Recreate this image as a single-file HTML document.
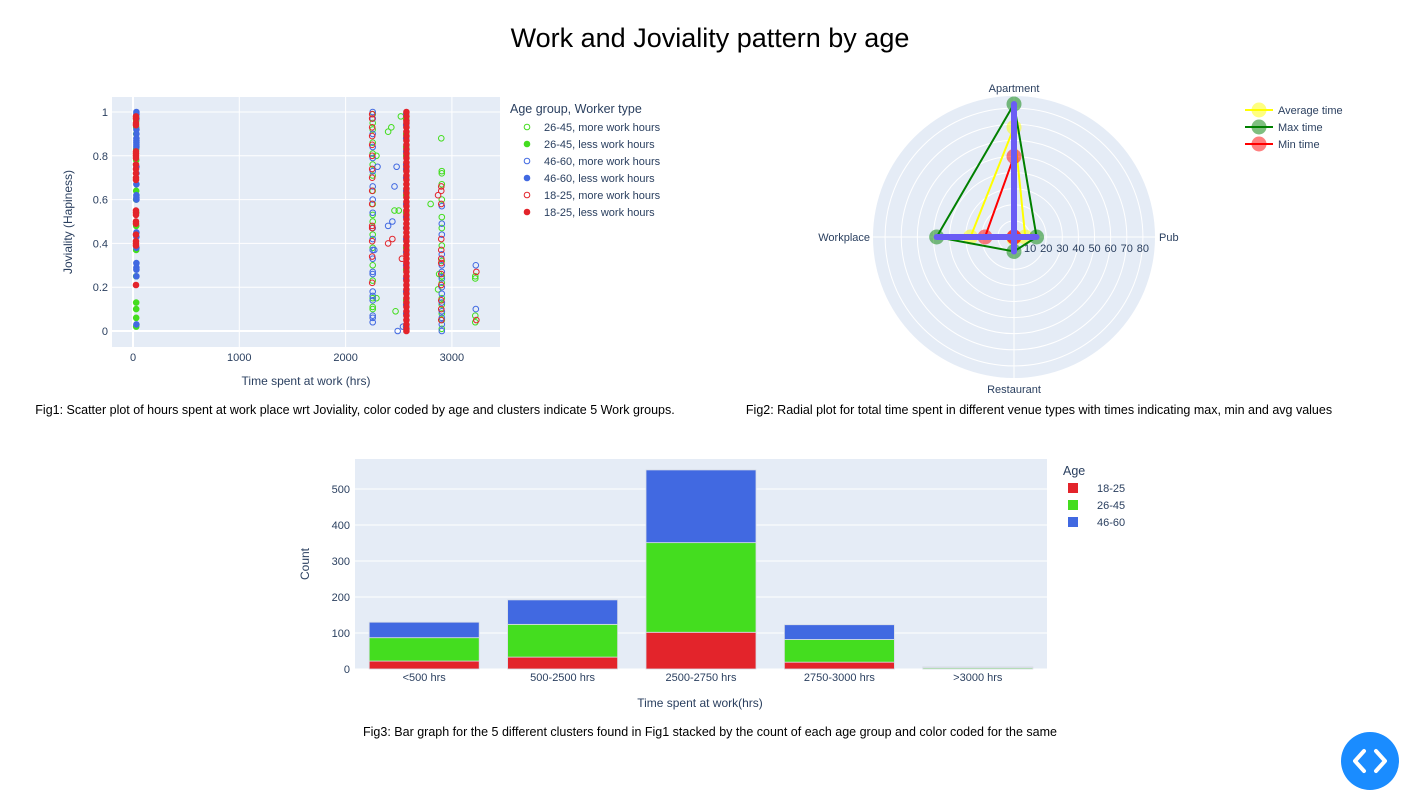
<!DOCTYPE html>
<html><head><meta charset="utf-8">
<style>
body{margin:0;background:#fff;font-family:"Liberation Sans",sans-serif;}
svg text{font-family:"Liberation Sans",sans-serif;fill:#2a3f5f;}
</style></head>
<body>
<svg id="root" width="1421" height="807" viewBox="0 0 1421 807" xmlns="http://www.w3.org/2000/svg">
<text x="710" y="47" text-anchor="middle" font-size="27" style="fill:#000">Work and Joviality pattern by age</text>
<g id="scatter"></g>
<g id="polar"></g>
<g id="bar"></g>
<text x="355" y="414" text-anchor="middle" font-size="12.5" style="fill:#000">Fig1: Scatter plot of hours spent at work place wrt Joviality, color coded by age and clusters indicate 5 Work groups.</text>
<text x="1039" y="414" text-anchor="middle" font-size="12.5" style="fill:#000">Fig2: Radial plot for total time spent in different venue types with times indicating max, min and avg values</text>
<text x="710" y="736" text-anchor="middle" font-size="12.5" style="fill:#000">Fig3: Bar graph for the 5 different clusters found in Fig1 stacked by the count of each age group and color coded for the same</text>
<g>
<circle cx="1370" cy="761" r="29" fill="#1a8cff"/>
<path d="M1364 751 L1355 761 L1364 771 M1376 751 L1385 761 L1376 771" stroke="#fff" stroke-width="4" fill="none" stroke-linecap="round" stroke-linejoin="round"/>
</g>
</svg>
<script>
const NS="http://www.w3.org/2000/svg";
function mk(parent,tag,attrs,text){const e=document.createElementNS(NS,tag);for(const k in attrs)e.setAttribute(k,attrs[k]);if(text!==undefined)e.textContent=text;parent.appendChild(e);return e;}
const GREEN="#44dd1f",BLUE="#4169e1",RED="#e3242b";

/* ---------- Scatter data ---------- */
const xTicks=[0,1000,2000,3000];
const yTicks=[0,0.2,0.4,0.6,0.8,1];
const yTickLabels=["0","0.2","0.4","0.6","0.8","1"];
const lessRed30Y=[0.98,0.97,0.95,0.94,0.82,0.81,0.80,0.79,0.76,0.74,0.72,0.70,0.69,0.55,0.54,0.53,0.50,0.49,0.44,0.41,0.40,0.39,0.21];
const lessBlue30Y=[1.0,0.99,0.97,0.92,0.90,0.88,0.87,0.86,0.85,0.84,0.75,0.72,0.67,0.62,0.61,0.60,0.45,0.43,0.38,0.31,0.29,0.28,0.25,0.03];
const lessGreen30Y=[0.98,0.96,0.93,0.90,0.83,0.78,0.64,0.60,0.54,0.48,0.37,0.25,0.13,0.10,0.06,0.02];
const lessRed2570Y=[1.0,0.98,0.96,0.95,0.93,0.91,0.89,0.87,0.85,0.83,0.81,0.79,0.77,0.75,0.73,0.71,0.69,0.67,0.65,0.63,0.61,0.59,0.57,0.55,0.53,0.51,0.49,0.47,0.45,0.43,0.41,0.39,0.37,0.35,0.33,0.31,0.29,0.27,0.25,0.23,0.21,0.19,0.17,0.15,0.13,0.11,0.09,0.07,0.05,0.03,0.01,0.0];
const lessBlue2570Y=[0.99,0.94,0.88,0.82,0.76,0.74,0.70,0.64,0.58,0.52,0.47,0.42,0.36,0.30,0.24,0.18,0.12,0.08,0.02];
const lessGreen2570Y=[0.97,0.90,0.84,0.80,0.62,0.54,0.38,0.28,0.14,0.02];
const moreGreen2250Y=[0.99,0.95,0.92,0.86,0.81,0.76,0.71,0.64,0.58,0.53,0.50,0.44,0.38,0.30,0.23,0.15,0.11,0.10];
const moreBlue2250Y=[1.0,0.97,0.90,0.84,0.79,0.73,0.66,0.60,0.54,0.47,0.42,0.37,0.33,0.27,0.26,0.18,0.16,0.14,0.07,0.06,0.04];
const moreRed2250Y=[0.99,0.97,0.93,0.89,0.85,0.80,0.74,0.70,0.64,0.58,0.48,0.47,0.41,0.34,0.22];
const moreGreen2900Y=[0.73,0.72,0.67,0.60,0.52,0.47,0.39,0.32,0.25,0.22,0.15,0.12,0.08,0.05,0.01];
const moreBlue2900Y=[0.57,0.49,0.44,0.35,0.30,0.27,0.24,0.20,0.17,0.13,0.09,0.06,0.03,0.0];
const moreRed2900Y=[0.66,0.64,0.58,0.42,0.37,0.33,0.31,0.26,0.21,0.14,0.10,0.05];
const moreGreen3220Y=[0.25,0.24,0.07,0.04];
const moreBlue3220Y=[0.30,0.10];
const moreRed3220Y=[0.27,0.05];
const strayGreenX=[2400,2430,2520,2460,2500,2800,2290,2470,2880,2870,2900,2290];
const strayGreenY=[0.91,0.93,0.98,0.55,0.55,0.58,0.15,0.09,0.26,0.19,0.88,0.80];
const strayBlueX=[2300,2480,2460,2400,2440,2270,2490,2540];
const strayBlueY=[0.75,0.75,0.66,0.48,0.50,0.37,0.0,0.02];
const strayRedX=[2400,2440,2530,2870];
const strayRedY=[0.40,0.42,0.33,0.62];

(function(){
const g=document.getElementById('scatter');
const L=112,R=500,T=97,B=347;
const sx=v=>133+v*0.1063, sy=v=>331-v*219;
const bg=mk(g,'rect',{x:L,y:T,width:R-L,height:B-T,fill:'#e5ecf6'});


xTicks.forEach(t=>{
 const l=mk(g,'line',{x1:sx(t),x2:sx(t),y1:T,y2:B,stroke:'#fff','stroke-width':t===0?2:1});
 
 
 const tx=mk(g,'text',{x:sx(t),y:361,'text-anchor':'middle','font-size':11},String(t));
 
 
});
yTicks.forEach((t,i)=>{
 const l=mk(g,'line',{x1:L,x2:R,y1:sy(t),y2:sy(t),stroke:'#fff','stroke-width':t===0?2:1});
 
 
 const tx=mk(g,'text',{x:108,y:sy(t)+4,'text-anchor':'end','font-size':11},yTickLabels[i]);
 
 
});
const yt=mk(g,'text',{x:0,y:0,'text-anchor':'middle','font-size':12,transform:'translate(72,222) rotate(-90)'},'Joviality (Hapiness)');


const xt=mk(g,'text',{x:306,y:385,'text-anchor':'middle','font-size':12},'Time spent at work (hrs)');


function pts(xs,ys,col,filled,name){
 ys.forEach((y,i)=>{
  const x=Array.isArray(xs)?xs[i]:xs;
  const c=mk(g,'circle',{cx:sx(x),cy:sy(y),r:2.8,fill:filled?col:'none',stroke:col,'stroke-width':1});
  
  
 });
}
pts(2255,moreGreen2250Y,GREEN,false,'point-26-45-more');
pts(2905,moreGreen2900Y,GREEN,false,'point-26-45-more');
pts(3220,moreGreen3220Y,GREEN,false,'point-26-45-more');
pts(strayGreenX,strayGreenY,GREEN,false,'point-26-45-more');
pts(2255,moreBlue2250Y,BLUE,false,'point-46-60-more');
pts(2905,moreBlue2900Y,BLUE,false,'point-46-60-more');
pts(3225,moreBlue3220Y,BLUE,false,'point-46-60-more');
pts(strayBlueX,strayBlueY,BLUE,false,'point-46-60-more');
pts(2250,moreRed2250Y,RED,false,'point-18-25-more');
pts(2900,moreRed2900Y,RED,false,'point-18-25-more');
pts(3230,moreRed3220Y,RED,false,'point-18-25-more');
pts(strayRedX,strayRedY,RED,false,'point-18-25-more');
pts(30,lessGreen30Y,GREEN,true,'point-26-45-less');
pts(2570,lessGreen2570Y,GREEN,true,'point-26-45-less');
pts(32,lessBlue30Y,BLUE,true,'point-46-60-less');
pts(2570,lessBlue2570Y,BLUE,true,'point-46-60-less');
pts(28,lessRed30Y,RED,true,'point-18-25-less');
pts(2572,lessRed2570Y,RED,true,'point-18-25-less');
/* legend */
const lt=mk(g,'text',{x:510,y:113,'font-size':12.5},'Age group, Worker type');


const legNames=["26-45, more work hours","26-45, less work hours","46-60, more work hours","46-60, less work hours","18-25, more work hours","18-25, less work hours"];
const legCols=[GREEN,GREEN,BLUE,BLUE,RED,RED];
legNames.forEach((n,i)=>{
 const y=127+i*17;
 const eg=mk(g,'g',{});
 
 
 mk(eg,'circle',{cx:527,cy:y,r:2.8,fill:i%2?legCols[i]:'none',stroke:legCols[i]});
 mk(eg,'text',{x:544,y:y+4,'font-size':11},n);
});
})();

/* ---------- Polar data ---------- */
const venues=["Apartment","Pub","Restaurant","Workplace"];
const maxTime=[82.5,14,9,48];
const avgTime=[68,7,1,27];
const minTime=[50,0,0,18];
const radialTicks=[10,20,30,40,50,60,70,80];
(function(){
const g=document.getElementById('polar');
const cx=1014,cy=237,R=141,rmax=87.5;
const ang={Apartment:-90,Pub:0,Restaurant:90,Workplace:180};
const pt=(v,r)=>{const a=ang[v]*Math.PI/180,d=r/rmax*R;return [cx+d*Math.cos(a),cy+d*Math.sin(a)];};
const bg=mk(g,'circle',{cx,cy,r:R,fill:'#e5ecf6'});


radialTicks.forEach(t=>{
 const c=mk(g,'circle',{cx,cy,r:t/rmax*R,fill:'none',stroke:'#fff','stroke-width':1});
 
 
});
venues.forEach(v=>{
 const p=pt(v,rmax);
 const l=mk(g,'line',{x1:cx,y1:cy,x2:p[0],y2:p[1],stroke:'#fff','stroke-width':1});
 
 
});
radialTicks.forEach(t=>{
 const p=pt('Pub',t);
 const tx=mk(g,'text',{x:p[0],y:cy+15,'text-anchor':'middle','font-size':11},String(t));
 
 
});
const labs={Apartment:[cx,92,'middle'],Pub:[1159,241,'start'],Restaurant:[cx,393,'middle'],Workplace:[870,241,'end']};
venues.forEach(v=>{
 const t=mk(g,'text',{x:labs[v][0],y:labs[v][1],'text-anchor':labs[v][2],'font-size':11},v);
 
 
});
function trace(vals,col,name){
 const ps=vals.map((r,i)=>pt(venues[i],r));ps.push(ps[0]);
 const pl=mk(g,'polyline',{points:ps.map(p=>p.join(',')).join(' '),fill:'none',stroke:col,'stroke-width':2});
 
 
 vals.forEach((r,i)=>{
  const p=pt(venues[i],r);
  const c=mk(g,'circle',{cx:p[0],cy:p[1],r:7.5,fill:col,'fill-opacity':0.5});
  
  
 });
}
trace(avgTime,'#ffff00','average-time');
trace(maxTime,'#008000','max-time');
trace(minTime,'#ff0000','min-time');
venues.forEach((v,i)=>{
 const p=pt(v,maxTime[i]);
 const l=mk(g,'line',{x1:cx,y1:cy,x2:p[0],y2:p[1],stroke:'#6a5cf5','stroke-width':6,'stroke-linecap':'round'});
 
 
});
const legN=["Average time","Max time","Min time"],legC=['#ffff00','#008000','#ff0000'];
legN.forEach((n,i)=>{
 const y=110+i*17;
 const eg=mk(g,'g',{});
 
 
 mk(eg,'line',{x1:1245,x2:1273,y1:y,y2:y,stroke:legC[i],'stroke-width':2});
 mk(eg,'circle',{cx:1259,cy:y,r:7.5,fill:legC[i],'fill-opacity':0.5});
 mk(eg,'text',{x:1278,y:y+4,'font-size':11},n);
});
})();

/* ---------- Bar data ---------- */
const barCategories=["<500 hrs","500-2500 hrs","2500-2750 hrs","2750-3000 hrs",">3000 hrs"];
const count18to25=[22,33,102,19,1];
const count26to45=[65,91,249,63,3];
const count46to60=[43,68,202,41,2];
const barTicks=[0,100,200,300,400,500];
(function(){
const g=document.getElementById('bar');
const L=355,R=1047,T=459,B=669;
const sy=v=>669-v*0.36;
const band=(R-L)/barCategories.length,bw=110;
const bg=mk(g,'rect',{x:L,y:T,width:R-L,height:B-T,fill:'#e5ecf6'});


barTicks.forEach(t=>{
 const l=mk(g,'line',{x1:L,x2:R,y1:sy(t),y2:sy(t),stroke:'#fff','stroke-width':1});
 
 
 const tx=mk(g,'text',{x:350,y:sy(t)+4,'text-anchor':'end','font-size':11},String(t));
 
 
});
const series=[[count18to25,RED,'bar-18-25'],[count26to45,GREEN,'bar-26-45'],[count46to60,BLUE,'bar-46-60']];
barCategories.forEach((c,i)=>{
 const x=L+band*i+(band-bw)/2;let base=0;
 series.forEach(s=>{
  const v=s[0][i];
  const r=mk(g,'rect',{x:x,y:sy(base+v),width:bw,height:v*0.36,fill:s[1],stroke:'#d8dde6','stroke-width':0.8});
  
  
  base+=v;
 });
 const tx=mk(g,'text',{x:L+band*(i+0.5),y:681,'text-anchor':'middle','font-size':11},c);
 
 
});
const yt=mk(g,'text',{x:0,y:0,'text-anchor':'middle','font-size':12,transform:'translate(309,564) rotate(-90)'},'Count');


const xt=mk(g,'text',{x:700,y:707,'text-anchor':'middle','font-size':12},'Time spent at work(hrs)');


const lt=mk(g,'text',{x:1063,y:475,'font-size':12.5},'Age');


const ln=["18-25","26-45","46-60"],lc=[RED,GREEN,BLUE];
ln.forEach((n,i)=>{
 const y=488+i*17;
 const eg=mk(g,'g',{});
 
 
 mk(eg,'rect',{x:1068,y:y-5,width:10,height:10,fill:lc[i]});
 mk(eg,'text',{x:1097,y:y+4,'font-size':11},n);
});
})();
</script>
</body></html>
